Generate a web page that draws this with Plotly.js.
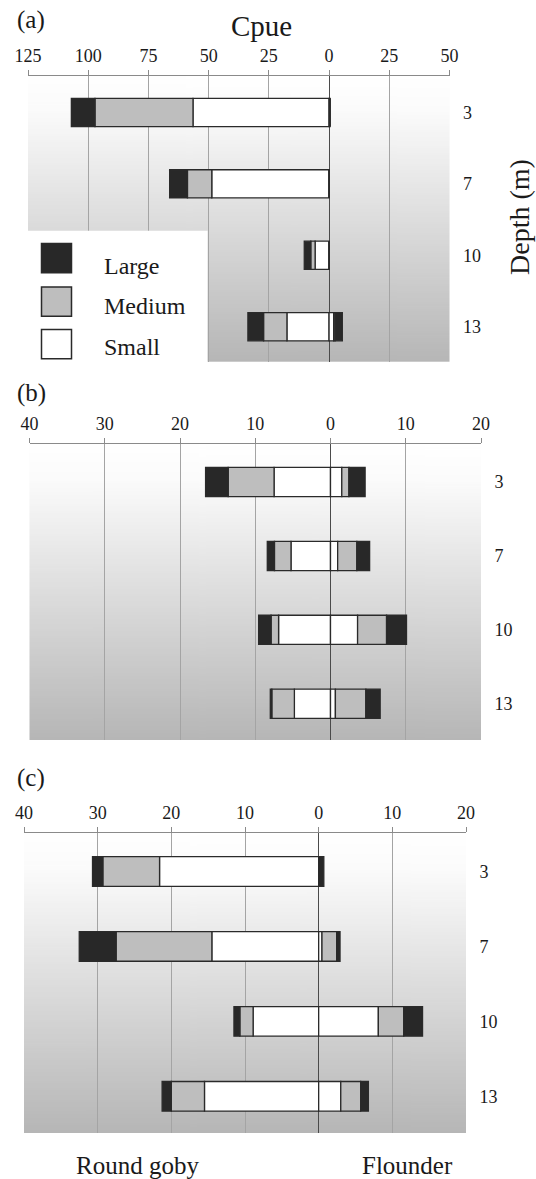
<!DOCTYPE html>
<html>
<head>
<meta charset="utf-8">
<script src="https://cdn.plot.ly/plotly-3.0.1.min.js"></script>
<style>
html,body{margin:0;padding:0;background:#fff;}
#chart{width:536px;height:1179px;}
#chart svg text{font-family:"Liberation Serif","DejaVu Serif",serif !important;}
</style>
</head>
<body>
<div id="chart"></div>
<script>
// ---------- DATA ----------
const depths = ['3', '7', '10', '13'];
const sizeClasses = ['Large', 'Medium', 'Small'];
const speciesLeft = 'Round goby';
const speciesRight = 'Flounder';

const tickValsA = [-125, -100, -75, -50, -25, 0, 25, 50];
const tickTextA = ['125', '100', '75', '50', '25', '0', '25', '50'];
const tickValsBC = [-40, -30, -20, -10, 0, 10, 20];
const tickTextBC = ['40', '30', '20', '10', '0', '10', '20'];

// Panel (a) – Cpue by size class (goby drawn to the left)
const gobyA_small  = [56.5, 48.7, 5.8, 17.5];
const gobyA_medium = [40.7, 10.1, 1.8, 9.7];
const gobyA_large  = [9.8, 7.4, 2.7, 6.5];
const flounderA_small  = [0.4, 0, 0, 1.9];
const flounderA_medium = [0, 0, 0, 0.6];
const flounderA_large  = [0, 0, 0, 3.0];

// Panel (b)
const gobyB_small  = [7.5, 5.25, 6.9, 4.8];
const gobyB_medium = [6.1, 2.2, 1.0, 3.0];
const gobyB_large  = [3.0, 0.95, 1.65, 0.2];
const flounderB_small  = [1.5, 0.95, 3.6, 0.65];
const flounderB_medium = [0.95, 2.55, 3.85, 4.05];
const flounderB_large  = [2.15, 1.7, 2.65, 1.9];

// Panel (c)
const gobyC_small  = [21.6, 14.5, 8.9, 15.5];
const gobyC_medium = [7.7, 13.0, 1.8, 4.5];
const gobyC_large  = [1.4, 5.0, 0.8, 1.25];
const flounderC_small  = [0, 0.45, 8.1, 3.0];
const flounderC_medium = [0, 2.0, 3.45, 2.7];
const flounderC_large  = [0.7, 0.45, 2.55, 1.05];

// ---------- STYLE / GEOMETRY ----------
const W = 536, H = 1179;
const FONT = 'Liberation Serif';
const TXT = '#1a1a1a';
const FILL = {Large: '#282828', Medium: '#bebebe', Small: '#ffffff'};
const OUTLINE = '#2a2a2a';

const px = v => v / W;
const py = v => 1 - v / H;

// plot boxes in pixels: left, right, top (axis line), bottom
const boxes = [
  {l: 28, r: 449.5, t: 76, b: 361.7},
  {l: 29.5, r: 481, t: 444.3, b: 740},
  {l: 24, r: 466, t: 833.3, b: 1133}
];

function gradientURL() {
  const c = document.createElement('canvas');
  c.width = 4; c.height = 256;
  const ctx = c.getContext('2d');
  const g = ctx.createLinearGradient(0, 0, 0, 256);
  g.addColorStop(0, '#ffffff');
  g.addColorStop(0.12, '#fbfbfb');
  g.addColorStop(1, '#b6b6b6');
  ctx.fillStyle = g;
  ctx.fillRect(0, 0, 4, 256);
  return c.toDataURL('image/png');
}
const GRAD = gradientURL();

const panels = [
  {goby: [gobyA_small, gobyA_medium, gobyA_large], fl: [flounderA_small, flounderA_medium, flounderA_large],
   range: [-125, 50], tv: tickValsA, tt: tickTextA},
  {goby: [gobyB_small, gobyB_medium, gobyB_large], fl: [flounderB_small, flounderB_medium, flounderB_large],
   range: [-40, 20], tv: tickValsBC, tt: tickTextBC},
  {goby: [gobyC_small, gobyC_medium, gobyC_large], fl: [flounderC_small, flounderC_medium, flounderC_large],
   range: [-40, 20], tv: tickValsBC, tt: tickTextBC}
];
const order = ['Small', 'Medium', 'Large'];

const traces = [];
const layout = {
  width: W, height: H,
  margin: {l: 0, r: 0, t: 0, b: 0},
  paper_bgcolor: '#ffffff',
  plot_bgcolor: 'rgba(0,0,0,0)',
  showlegend: false,
  barmode: 'relative',
  bargap: 0.605,
  font: {family: FONT, color: TXT, size: 18},
  images: [], shapes: [], annotations: []
};

panels.forEach((p, i) => {
  const xa = i === 0 ? 'x' : 'x' + (i + 1);
  const ya = i === 0 ? 'y' : 'y' + (i + 1);
  const b = boxes[i];
  order.forEach((cls, k) => {
    traces.push({
      type: 'bar', orientation: 'h', xaxis: xa, yaxis: ya,
      y: depths, x: p.goby[k].map(v => -v), name: speciesLeft + ' ' + cls,
      marker: {color: FILL[cls], line: {color: OUTLINE, width: 1.3}}, hoverinfo: 'skip'
    });
    traces.push({
      type: 'bar', orientation: 'h', xaxis: xa, yaxis: ya,
      y: depths, x: p.fl[k], name: speciesRight + ' ' + cls,
      marker: {color: FILL[cls], line: {color: OUTLINE, width: 1.3}}, hoverinfo: 'skip'
    });
  });
  const xk = i === 0 ? 'xaxis' : 'xaxis' + (i + 1);
  const yk = i === 0 ? 'yaxis' : 'yaxis' + (i + 1);
  layout[xk] = {
    domain: [px(b.l), px(b.r)], anchor: ya, side: 'top',
    range: p.range, fixedrange: true,
    tickmode: 'array', tickvals: p.tv, ticktext: p.tt,
    showline: true, linecolor: '#8a8a8a', linewidth: 1,
    ticks: 'outside', ticklen: 5, tickcolor: '#8a8a8a', tickwidth: 1,
    ticklabelstandoff: 1,
    showgrid: true, gridcolor: '#a4a4a4', gridwidth: 1,
    zeroline: true, zerolinecolor: '#4a4a4a', zerolinewidth: 1,
    tickfont: {family: FONT, size: 18, color: TXT}
  };
  layout[yk] = {
    domain: [py(b.b), py(b.t)], anchor: xa, side: 'right',
    type: 'category', categoryorder: 'array', categoryarray: depths,
    range: [3.49, -0.51], fixedrange: true,
    showline: false, showgrid: false, zeroline: false,
    ticks: 'outside', ticklen: 9, tickcolor: 'rgba(0,0,0,0)',
    tickfont: {family: FONT, size: 18, color: TXT}
  };
  layout.images.push({
    source: GRAD, xref: 'paper', yref: 'paper',
    x: px(b.l), y: py(b.t), sizex: px(b.r) - px(b.l), sizey: (b.b - b.t) / H,
    xanchor: 'left', yanchor: 'top', sizing: 'stretch', layer: 'below'
  });
});

// white legend area in panel (a)
layout.shapes.push({type: 'rect', xref: 'paper', yref: 'paper', layer: 'above',
  x0: px(20), x1: px(207.6), y0: py(365), y1: py(230.7),
  fillcolor: '#ffffff', line: {width: 0}});

// legend squares and labels
const legTop = [243.5, 287, 329.5];
const legText = [266, 305.5, 347];
sizeClasses.forEach((cls, k) => {
  layout.shapes.push({type: 'rect', xref: 'paper', yref: 'paper', layer: 'above',
    x0: px(41.5), x1: px(71.5), y0: py(legTop[k] + 29.3), y1: py(legTop[k]),
    fillcolor: FILL[cls], line: {color: '#2a2a2a', width: 1.5}});
  layout.annotations.push({xref: 'paper', yref: 'paper', x: px(102), y: py(legText[k]),
    xanchor: 'left', yanchor: 'middle', showarrow: false, text: cls,
    font: {family: FONT, size: 24, color: TXT}});
});

// titles and panel letters
const ann = (text, x, y, size, extra) => Object.assign({xref: 'paper', yref: 'paper', x: px(x), y: py(y),
  xanchor: 'center', yanchor: 'middle', showarrow: false, text: text,
  font: {family: FONT, size: size, color: TXT}}, extra || {});
layout.annotations.push(ann('(a)', 31, 20, 25));
layout.annotations.push(ann('(b)', 31.5, 393, 25));
layout.annotations.push(ann('(c)', 31, 778, 25));
layout.annotations.push(ann('Cpue', 261, 26, 29));
layout.annotations.push(ann('Depth (m)', 519, 217, 28, {textangle: -90}));
layout.annotations.push(ann(speciesLeft, 137, 1165, 25));
layout.annotations.push(ann(speciesRight, 407, 1165, 25));

Plotly.newPlot('chart', traces, layout, {staticPlot: true, displayModeBar: false});
</script>
</body>
</html>
